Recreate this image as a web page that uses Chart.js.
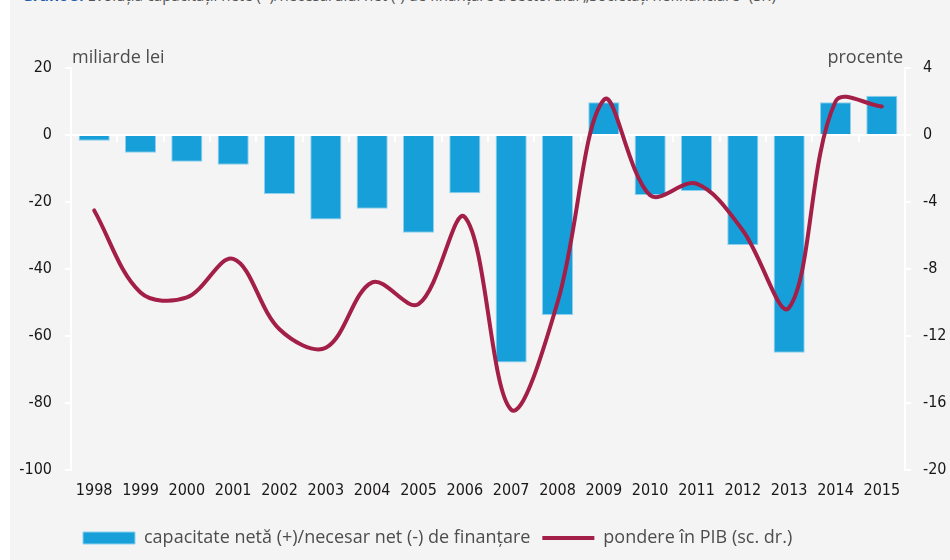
<!DOCTYPE html>
<html>
<head>
<meta charset="utf-8">
<script src="https://cdn.jsdelivr.net/npm/chart.js@4.4.1/dist/chart.umd.min.js"></script>
<style>
    html, body { margin: 0; padding: 0; background: #ffffff; }
    .panel { position: absolute; left: 10px; top: 0; width: 940px; height: 560px; background: #f4f4f4; overflow: hidden; }
    .title { position: absolute; left: 12px; top: -15px; white-space: nowrap; font: 15px 'Open Sans', sans-serif; color: #555; }
    .title b { color: #1c5aa8; }
    .wrap { position: absolute; left: 0; top: 0; width: 950px; height: 560px; }
    .unit { position: absolute; top: 44px; font: 18px 'Open Sans', sans-serif; color: #4d4d4d; }
</style>
</head>
<body>
<div class="panel">
    <div class="title"><b>Grafic 5.</b> Evoluția capacității nete (+)/necesarului net (-) de finanțare a sectorului „Societăți nefinanciare” (Sr.)</div>
</div>
<div class="wrap"><canvas id="chart" width="950" height="560"></canvas></div>
<div class="unit" style="left:72px;">miliarde lei</div>
<div class="unit" style="right:47px;">procente</div>
<script>
    // Categories and series
    const years = ['1998', '1999', '2000', '2001', '2002', '2003', '2004', '2005', '2006',
        '2007', '2008', '2009', '2010', '2011', '2012', '2013', '2014', '2015'];
    const netFinancing = [-1.7, -5.3, -8.0, -8.9, -17.6, -25.2, -22.0, -29.2, -17.4,
        -67.9, -53.7, 9.8, -17.9, -16.7, -32.8, -65.0, 9.8, 11.7];
    const shareOfGdp = [-4.5, -9.4, -9.7, -7.4, -11.6, -12.7, -8.8, -10.1, -4.9,
        -16.4, -10.0, 2.1, -3.6, -2.9, -5.7, -10.3, 2.0, 1.7];
    const leftTicks = { min: -100, max: 20, step: 20 };
    const rightTicks = { min: -20, max: 4, step: 4 };

    const tickFont = { family: "'Liberation Sans Narrow', 'DejaVu Sans Condensed', sans-serif", size: 16 };
    const tickColor = '#1a1718';
    const axisWhite = '#ffffff';

    const ctx = document.getElementById('chart').getContext('2d');
    new Chart(ctx, {
        data: {
            labels: years,
            datasets: [
                {
                    type: 'bar',
                    label: 'capacitate netă (+)/necesar net (-) de finanțare',
                    data: netFinancing,
                    yAxisID: 'y',
                    xAxisID: 'x',
                    backgroundColor: '#179fd9',
                    borderColor: '#8fd0ee',
                    borderWidth: 1,
                    barPercentage: 0.84,
                    categoryPercentage: 0.8,
                    pointStyle: 'rect',
                    order: 1
                },
                {
                    type: 'line',
                    label: 'pondere în PIB (sc. dr.)',
                    data: shareOfGdp,
                    yAxisID: 'y1',
                    xAxisID: 'x',
                    borderColor: '#a31f47',
                    backgroundColor: '#a31f47',
                    borderWidth: 4,
                    borderCapStyle: 'round',
                    pointRadius: 0,
                    pointHoverRadius: 0,
                    tension: 0.35,
                    pointStyle: 'line',
                    order: 0
                }
            ]
        },
        options: {
            responsive: false,
            animation: false,
            layout: { padding: { left: 0, right: 0, top: 68, bottom: 3 } },
            plugins: {
                tooltip: { enabled: false },
                legend: {
                    position: 'bottom',
                    align: 'start',
                    fullSize: false,
                    labels: {
                        usePointStyle: true,
                        pointStyleWidth: 52,
                        boxHeight: 12,
                        padding: 12,
                        color: '#4d4d4d',
                        font: { family: "'Open Sans', sans-serif", size: 18 },
                        sort: (a, b) => a.datasetIndex - b.datasetIndex
                    }
                }
            },
            scales: {
                x: {
                    type: 'category',
                    position: { y: 0 },
                    offset: true,
                    border: { color: axisWhite, width: 2 },
                    grid: { offset: true, drawOnChartArea: false, drawTicks: true, tickLength: 6, color: axisWhite, lineWidth: 2 },
                    ticks: { display: false }
                },
                x2: {
                    type: 'category',
                    position: 'bottom',
                    offset: true,
                    border: { display: false },
                    grid: { display: false },
                    ticks: { color: tickColor, font: tickFont, padding: 3, maxRotation: 0, autoSkip: false },
                    afterFit: (scale) => { scale.height = 47; }
                },
                y: {
                    position: 'left',
                    min: leftTicks.min,
                    max: leftTicks.max,
                    border: { color: axisWhite, width: 2 },
                    grid: { drawOnChartArea: false, tickLength: 6, color: axisWhite, lineWidth: 2 },
                    ticks: { stepSize: leftTicks.step, color: tickColor, font: tickFont, padding: 13 },
                    afterFit: (scale) => { scale.width = 71; }
                },
                y1: {
                    position: 'right',
                    min: rightTicks.min,
                    max: rightTicks.max,
                    border: { color: axisWhite, width: 2 },
                    grid: { drawOnChartArea: false, tickLength: 6, color: axisWhite, lineWidth: 2 },
                    ticks: { stepSize: rightTicks.step, color: tickColor, font: tickFont, padding: 12 },
                    afterFit: (scale) => { scale.width = 45; }
                }
            }
        }
    });
</script>
</body>
</html>
